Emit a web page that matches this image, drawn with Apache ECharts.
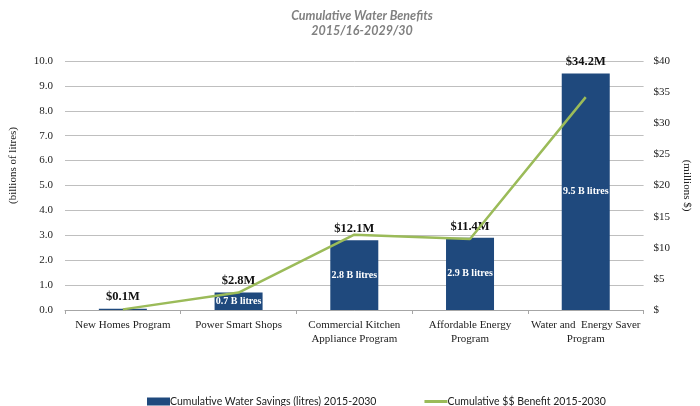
<!DOCTYPE html>
<html>
<head>
<meta charset="utf-8">
<script src="https://cdn.jsdelivr.net/npm/echarts@6/dist/echarts.min.js"></script>
<style>
  html, body { margin: 0; padding: 0; background: #ffffff; }
  #chart { width: 700px; height: 406px; }
</style>
</head>
<body>
<div id="chart"></div>
<script>
// Programs along the category axis
const programs = [
  'New Homes Program',
  'Power Smart Shops',
  'Commercial Kitchen\nAppliance Program',
  'Affordable Energy\nProgram',
  'Water and  Energy Saver\nProgram'
];
// Cumulative water savings, billions of litres
const waterSavings = [0.05, 0.7, 2.8, 2.9, 9.5];
// Cumulative dollar benefit, millions of $
const dollarBenefit = [0.1, 2.8, 12.1, 11.4, 34.2];

const leftTicks = { min: 0, max: 10, interval: 1 };
const rightTicks = { min: 0, max: 40, interval: 5 };

const serif = '"Liberation Serif", "DejaVu Serif", serif';
const sans = 'Lato, "Liberation Sans", sans-serif';

const chart = echarts.init(document.getElementById('chart'), null, { renderer: 'canvas' });

chart.setOption({
  backgroundColor: '#ffffff',
  animation: false,
  title: {
    text: 'Cumulative Water Benefits\n2015/16-2029/30',
    left: 357,
    textAlign: 'center',
    top: 3,
    textStyle: {
      fontFamily: sans,
      fontStyle: 'italic',
      fontWeight: 'bold',
      fontSize: 12.5,
      lineHeight: 15,
      color: '#808080'
    }
  },
  grid: { left: 63, right: 42, top: 61, bottom: 96, containLabel: false },
  legend: {
    left: 142,
    top: 391,
    itemWidth: 23,
    itemHeight: 8,
    itemGap: 48,
    data: [
      { name: 'Cumulative Water Savings (litres) 2015-2030', icon: 'rect' },
      { name: 'Cumulative $$ Benefit 2015-2030', icon: 'path://M0 0 H23 V3 H0 Z' }
    ],
    textStyle: { fontFamily: sans, fontSize: 10.5, color: '#222222', padding: [0, 0, 0, -5] }
  },
  xAxis: {
    type: 'category',
    data: programs,
    boundaryGap: true,
    axisLine: { lineStyle: { color: '#a6a6a6', width: 1 } },
    axisTick: { show: true, alignWithLabel: false, length: 4, lineStyle: { color: '#a6a6a6' } },
    axisLabel: {
      interval: 0,
      margin: 8,
      fontFamily: serif,
      fontSize: 11,
      lineHeight: 14,
      color: '#222222'
    }
  },
  yAxis: [
    {
      type: 'value',
      min: leftTicks.min,
      max: leftTicks.max,
      interval: leftTicks.interval,
      name: '(billions of litres)',
      nameLocation: 'middle',
      nameRotate: 90,
      nameGap: 46,
      nameTextStyle: { fontFamily: serif, fontSize: 11, color: '#222222', padding: [0, 0, 0, 40] },
      axisLine: { show: false },
      axisTick: { show: false },
      axisLabel: {
        margin: 12,
        fontFamily: serif,
        fontSize: 11,
        color: '#222222',
        formatter: v => v.toFixed(1)
      },
      splitLine: { lineStyle: { color: '#bfbfbf', width: 1 } }
    },
    {
      type: 'value',
      min: rightTicks.min,
      max: rightTicks.max,
      interval: rightTicks.interval,
      position: 'right',
      name: '(millions $)',
      nameLocation: 'middle',
      nameRotate: -90,
      nameGap: 37,
      nameTextStyle: { fontFamily: serif, fontSize: 11, color: '#222222' },
      axisLine: { show: false },
      axisTick: { show: false },
      axisLabel: {
        margin: 10,
        fontFamily: serif,
        fontSize: 11,
        color: '#222222',
        formatter: v => (v === 0 ? '$' : '$' + v)
      },
      splitLine: { show: false }
    }
  ],
  series: [
    {
      name: 'Cumulative Water Savings (litres) 2015-2030',
      type: 'bar',
      yAxisIndex: 0,
      data: waterSavings,
      barWidth: 48,
      itemStyle: { color: '#1f497d' },
      label: {
        show: true,
        position: 'inside',
        fontFamily: serif,
        fontWeight: 'bold',
        fontSize: 10,
        color: '#ffffff',
        formatter: p => (p.value >= 0.1 ? p.value.toFixed(1) + ' B litres' : '')
      },
      z: 2
    },
    {
      // Invisible twin of the bars that carries the dollar labels above each bar
      name: 'benefit-labels',
      type: 'bar',
      yAxisIndex: 0,
      data: waterSavings,
      barWidth: 48,
      barGap: '-100%',
      silent: true,
      itemStyle: { color: 'rgba(0,0,0,0)' },
      label: {
        show: true,
        position: 'top',
        distance: 5,
        fontFamily: serif,
        fontWeight: 'bold',
        fontSize: 12.5,
        color: '#111111',
        formatter: p => '$' + dollarBenefit[p.dataIndex].toFixed(1) + 'M'
      },
      z: 1
    },
    {
      name: 'Cumulative $$ Benefit 2015-2030',
      type: 'line',
      yAxisIndex: 1,
      data: dollarBenefit,
      symbol: 'none',
      lineStyle: { color: '#9bbb59', width: 2.5 },
      itemStyle: { color: '#9bbb59' },
      z: 3
    }
  ]
});
</script>
</body>
</html>
